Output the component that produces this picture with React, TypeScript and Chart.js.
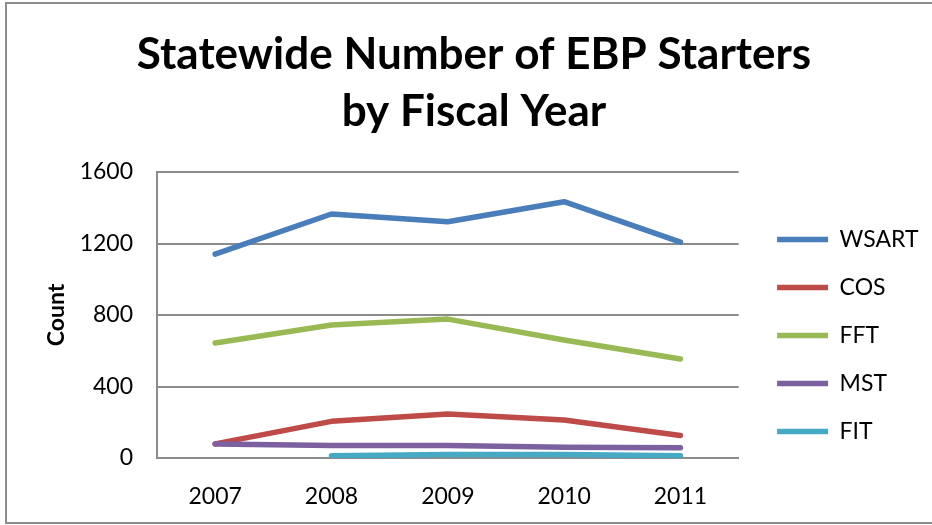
import React, { useEffect, useRef } from "react";
import { Chart, registerables } from "chart.js";

Chart.register(...registerables);

const years = ["2007", "2008", "2009", "2010", "2011"];
const wsart = [1141, 1365, 1322, 1434, 1208];
const cos = [79, 205, 246, 213, 126];
const fft = [643, 744, 777, 660, 554];
const mst = [79, 70, 70, 60, 57];
const fit = [null, 12, 20, 20, 12];

const seriesNames = ["WSART", "COS", "FFT", "MST", "FIT"];
const seriesColors = ["#4a7ebb", "#be4b48", "#98b954", "#7d60a0", "#46aac5"];
const titleLines = ["Statewide Number of EBP Starters", "by Fiscal Year"];
const yTitle = "Count";

export default function App() {
  const ref = useRef<HTMLCanvasElement | null>(null);

  useEffect(() => {
    if (!ref.current) return;
    const values = [wsart, cos, fft, mst, fit];
    const chart = new Chart(ref.current, {
      type: "line",
      data: {
        labels: years,
        datasets: values.map((v, i) => ({
          label: seriesNames[i],
          data: v,
          borderColor: seriesColors[i],
          backgroundColor: seriesColors[i],
          borderWidth: 5.5,
          borderCapStyle: "round" as const,
          borderJoinStyle: "round" as const,
          pointRadius: 0,
          pointHoverRadius: 0,
          tension: 0,
          fill: false,
          order: 5 - i,
        })),
      },
      options: {
        animation: false,
        responsive: false,
        maintainAspectRatio: false,
        layout: { padding: { left: 19.5, right: 3.5, top: 0, bottom: 15 } },
        plugins: {
          title: {
            display: true,
            text: titleLines,
            color: "#000",
            font: { family: "Lato", size: 44, weight: "bold", lineHeight: "57px" },
            padding: { top: 26, bottom: 32 },
          },
          legend: {
            display: true,
            position: "right",
            align: "center",
            maxWidth: 400,
            title: {
              display: true,
              text: "",
              padding: { top: 149, bottom: 0 },
              font: { size: 10, lineHeight: 1.2 },
            },
            labels: {
              usePointStyle: true,
              pointStyle: "line",
              pointStyleWidth: 51,
              boxHeight: 5,
              padding: 25,
              color: "#000",
              font: { family: "Lato", size: 23 },
              sort: (a: any, b: any) => a.datasetIndex - b.datasetIndex,
            },
          },
          tooltip: { enabled: false },
        },
        scales: {
          x: {
            offset: true,
            grid: { display: false, drawTicks: false },
            border: { display: true, color: "#8c8c8c", width: 2 },
            ticks: { color: "#000", font: { family: "Lato", size: 23 }, padding: 25 },
            afterFit: (s: any) => {
              s.height = 52;
            },
          },
          y: {
            min: 0,
            max: 1600,
            ticks: {
              stepSize: 400,
              color: "#000",
              font: { family: "Lato", size: 23 },
              padding: 24,
              callback: (v: any) => String(v),
            },
            grid: { color: "#8c8c8c", lineWidth: 2, drawTicks: false },
            border: { display: true, color: "#8c8c8c", width: 2 },
            title: {
              display: true,
              text: yTitle,
              color: "#000",
              font: { family: "Lato", size: 23, weight: "bold" },
              padding: { top: 23.7, bottom: 0 },
            },
            afterFit: (s: any) => {
              s.width = 137.5;
            },
          },
          y2: {
            position: "right",
            min: 0,
            max: 1,
            grid: { display: false, drawTicks: false },
            border: { display: false },
            ticks: { display: false },
            afterFit: (s: any) => {
              s.width = 13.5;
            },
          },
        },
      } as any,
    });
    return () => chart.destroy();
  }, []);

  return (
    <div style={{ position: "fixed", left: 0, top: 0, width: 932, height: 525, background: "#fff", overflow: "hidden" }}>
      <div
        style={{
          position: "absolute",
          left: 5,
          top: 2,
          width: 1000,
          height: 518,
          border: "2px solid #8c8c8c",
        }}
      />
      <canvas ref={ref} width={932} height={525} style={{ position: "absolute", left: 0, top: 0 }} />
    </div>
  );
}
